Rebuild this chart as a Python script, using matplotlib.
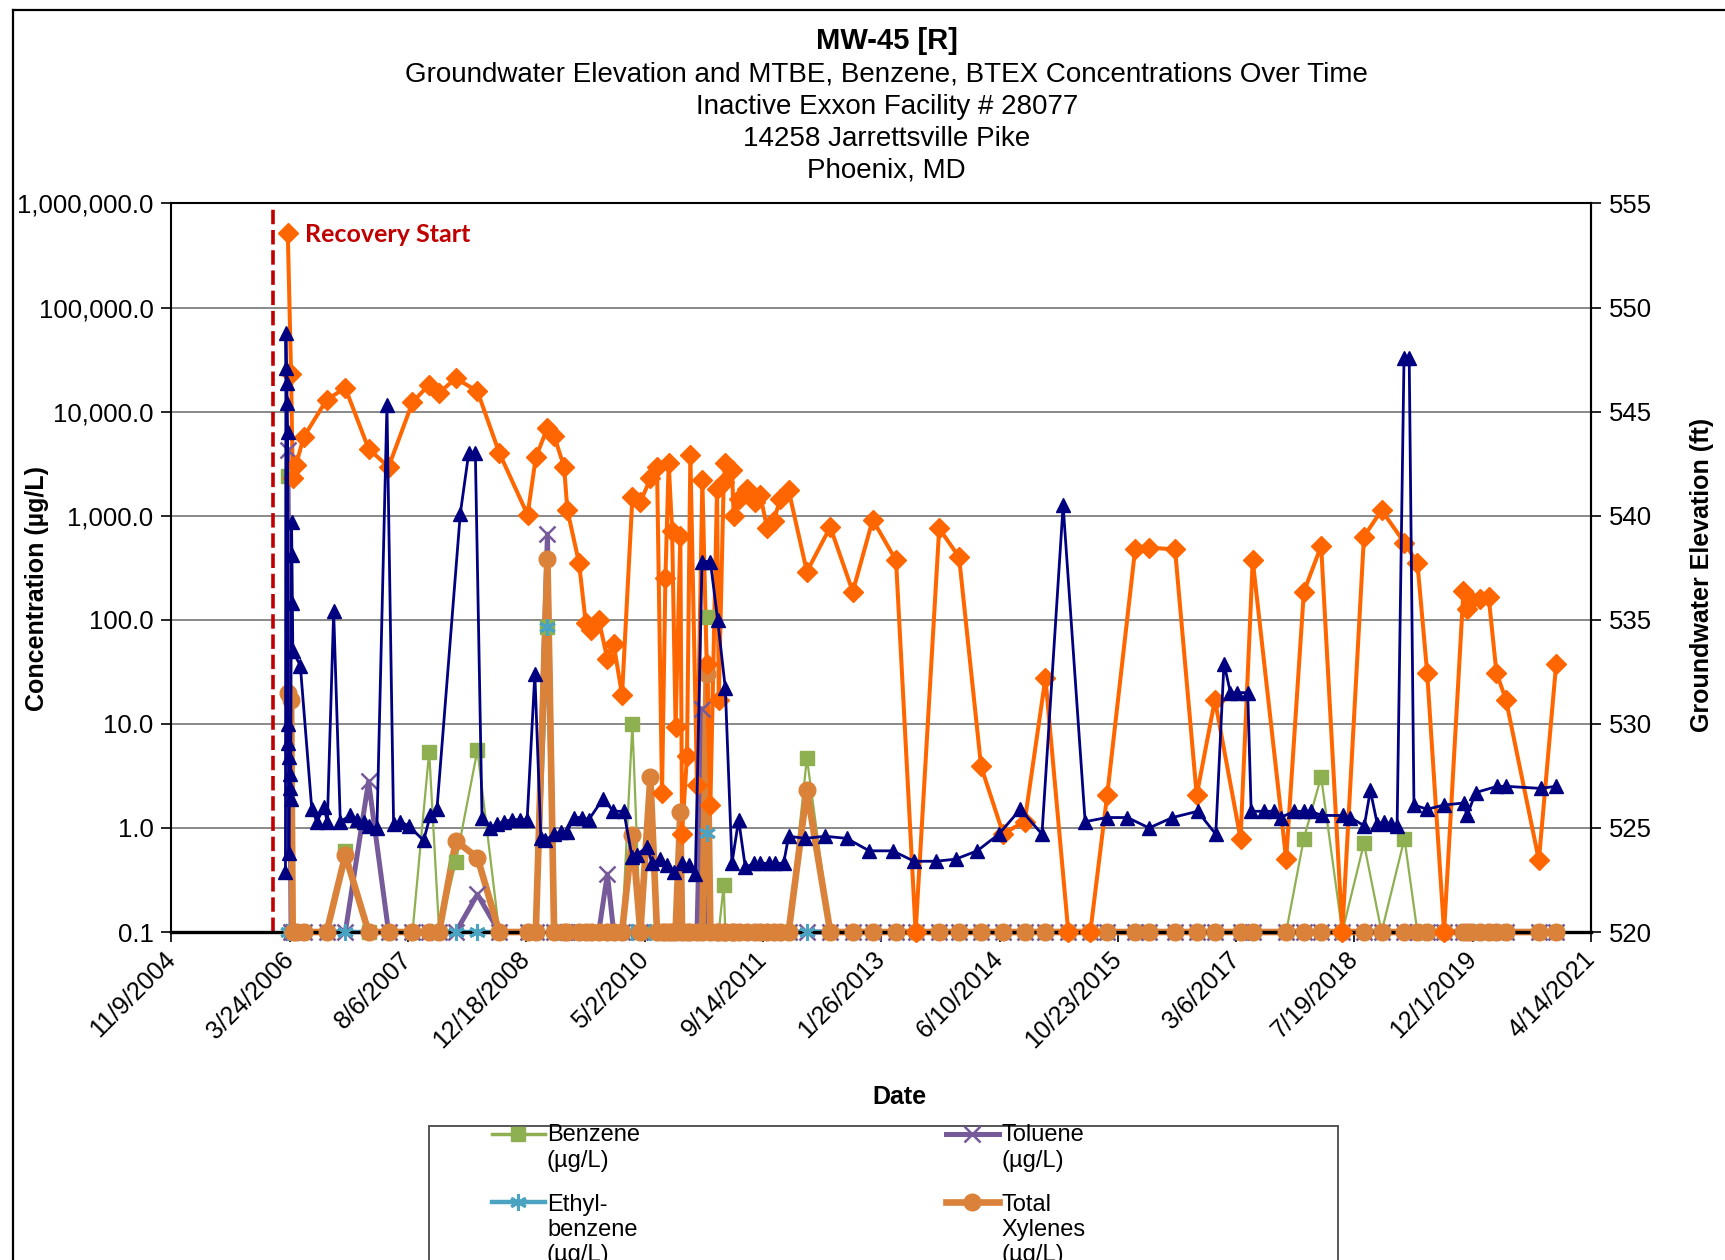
import matplotlib
matplotlib.use("Agg")
import matplotlib.pyplot as plt
from matplotlib.lines import Line2D
from matplotlib.patches import Rectangle
from matplotlib.ticker import FixedLocator, FuncFormatter, NullLocator
from datetime import datetime, timedelta

plt.rcParams['font.family'] = ['Liberation Sans', 'DejaVu Sans']

# sampling dates (decimal years) shared by MTBE and BTEX results
sample_yr = [
    2006.202, 2006.240, 2006.259, 2006.298, 2006.386, 2006.652, 2006.868, 2007.137, 2007.369, 2007.646,
    2007.839, 2007.955, 2008.147, 2008.397, 2008.648, 2008.976, 2009.071, 2009.206, 2009.283, 2009.399,
    2009.437, 2009.572, 2009.650, 2009.707, 2009.800, 2009.900, 2009.973, 2010.070, 2010.190, 2010.282,
    2010.398, 2010.475, 2010.533, 2010.572, 2010.610, 2010.650, 2010.690, 2010.745, 2010.765, 2010.822,
    2010.861, 2010.938, 2011.000, 2011.050, 2011.093, 2011.170, 2011.190, 2011.247, 2011.266, 2011.343,
    2011.363, 2011.420, 2011.517, 2011.613, 2011.670, 2011.749, 2011.826, 2011.903, 2011.999, 2012.210,
    2012.480, 2012.740, 2012.970, 2013.240, 2013.467, 2013.740, 2013.970, 2014.225, 2014.480, 2014.730,
    2014.970, 2015.235, 2015.490, 2015.685, 2016.010, 2016.170, 2016.470, 2016.720, 2016.930, 2017.227,
    2017.368, 2017.755, 2017.960, 2018.160, 2018.405, 2018.656, 2018.860, 2019.125, 2019.275, 2019.388,
    2019.584, 2019.808, 2019.850, 2019.895, 2020.000, 2020.100, 2020.190, 2020.300, 2020.680, 2020.880,
]

mtbe = [
    520000, 23000, 2300, 3100, 5700, 13000, 16900, 4400, 2940, 12300,
    18200, 15200, 20900, 15700, 4040, 1020, 3630, 7000, 5880, 2940,
    1130, 352, 93, 80, 100, 42, 58, 19, 1510, 1350,
    2280, 2960, 2.15, 250, 3190, 714, 9.3, 638, 0.88, 4.9,
    3850, 2.6, 2190, 38, 1.66, 1820, 17, 2110, 3190, 2750,
    1000, 1450, 1820, 1350, 1570, 770, 894, 1450, 1755, 290,
    780, 186, 914, 372, 0.1, 755, 400, 3.9, 0.88, 1.15,
    27.6, 0.1, 0.1, 2.06, 484, 494, 474, 2.06, 17, 0.79,
    372, 0.5, 186, 511, 0.1, 631, 1130, 550, 352, 31,
    0.1, 190, 128, 154, 160, 165, 31, 17, 0.49, 38,
]

# non-detects are plotted at 0.1
benzene = [
    2400, 0.1, 0.1, 0.1, 0.1, 0.1, 0.6, 0.1, 0.1, 0.1,
    5.4, 0.1, 0.47, 5.6, 0.1, 0.1, 0.1, 86, 0.1, 0.1,
    0.1, 0.1, 0.1, 0.1, 0.1, 0.1, 0.1, 0.1, 10, 0.1,
    0.1, 0.1, 0.1, 0.1, 0.1, 0.1, 0.1, 0.1, 0.1, 0.1,
    0.1, 0.1, 0.1, 106, 0.1, 0.1, 0.1, 0.285, 0.1, 0.1,
    0.1, 0.1, 0.1, 0.1, 0.1, 0.1, 0.1, 0.1, 0.1, 4.7,
    0.1, 0.1, 0.1, 0.1, 0.1, 0.1, 0.1, 0.1, 0.1, 0.1,
    0.1, 0.1, 0.1, 0.1, 0.1, 0.1, 0.1, 0.1, 0.1, 0.1,
    0.1, 0.1, 0.79, 3.1, 0.1, 0.71, 0.1, 0.79, 0.1, 0.1,
    0.1, 0.1, 0.1, 0.1, 0.1, 0.1, 0.1, 0.1, 0.1, 0.1,
]

toluene = [
    4300, 0.1, 0.1, 0.1, 0.1, 0.1, 0.1, 2.8, 0.1, 0.1,
    0.1, 0.1, 0.1, 0.23, 0.1, 0.1, 0.1, 665, 0.1, 0.1,
    0.1, 0.1, 0.1, 0.1, 0.1, 0.36, 0.1, 0.1, 0.1, 0.1,
    0.1, 0.1, 0.1, 0.1, 0.1, 0.1, 0.1, 0.1, 0.1, 0.1,
    0.1, 0.1, 14, 0.1, 0.1, 0.1, 0.1, 0.1, 0.1, 0.1,
    0.1, 0.1, 0.1, 0.1, 0.1, 0.1, 0.1, 0.1, 0.1, 0.1,
    0.1, 0.1, 0.1, 0.1, 0.1, 0.1, 0.1, 0.1, 0.1, 0.1,
    0.1, 0.1, 0.1, 0.1, 0.1, 0.1, 0.1, 0.1, 0.1, 0.1,
    0.1, 0.1, 0.1, 0.1, 0.1, 0.1, 0.1, 0.1, 0.1, 0.1,
    0.1, 0.1, 0.1, 0.1, 0.1, 0.1, 0.1, 0.1, 0.1, 0.1,
]

ethylbenzene = [
    0.1, 0.1, 0.1, 0.1, 0.1, 0.1, 0.1, 0.1, 0.1, 0.1,
    0.1, 0.1, 0.1, 0.1, 0.1, 0.1, 0.1, 86, 0.1, 0.1,
    0.1, 0.1, 0.1, 0.1, 0.1, 0.1, 0.1, 0.1, 0.1, 0.1,
    0.1, 0.1, 0.1, 0.1, 0.1, 0.1, 0.1, 0.1, 0.1, 0.1,
    0.1, 0.1, 0.1, 0.9, 0.1, 0.1, 0.1, 0.1, 0.1, 0.1,
    0.1, 0.1, 0.1, 0.1, 0.1, 0.1, 0.1, 0.1, 0.1, 0.1,
    0.1, 0.1, 0.1, 0.1, 0.1, 0.1, 0.1, 0.1, 0.1, 0.1,
    0.1, 0.1, 0.1, 0.1, 0.1, 0.1, 0.1, 0.1, 0.1, 0.1,
    0.1, 0.1, 0.1, 0.1, 0.1, 0.1, 0.1, 0.1, 0.1, 0.1,
    0.1, 0.1, 0.1, 0.1, 0.1, 0.1, 0.1, 0.1, 0.1, 0.1,
]

xylenes = [
    20, 17, 0.1, 0.1, 0.1, 0.1, 0.55, 0.1, 0.1, 0.1,
    0.1, 0.1, 0.75, 0.52, 0.1, 0.1, 0.1, 384, 0.1, 0.1,
    0.1, 0.1, 0.1, 0.1, 0.1, 0.1, 0.1, 0.1, 0.85, 0.1,
    3.1, 0.1, 0.1, 0.1, 0.1, 0.1, 0.1, 1.43, 0.1, 0.1,
    0.1, 0.1, 0.1, 30, 0.1, 0.1, 0.1, 0.1, 0.1, 0.1,
    0.1, 0.1, 0.1, 0.1, 0.1, 0.1, 0.1, 0.1, 0.1, 2.3,
    0.1, 0.1, 0.1, 0.1, 0.1, 0.1, 0.1, 0.1, 0.1, 0.1,
    0.1, 0.1, 0.1, 0.1, 0.1, 0.1, 0.1, 0.1, 0.1, 0.1,
    0.1, 0.1, 0.1, 0.1, 0.1, 0.1, 0.1, 0.1, 0.1, 0.1,
    0.1, 0.1, 0.1, 0.1, 0.1, 0.1, 0.1, 0.1, 0.1, 0.1,
]

# groundwater elevation gauging (decimal years, ft)
gw_yr = [
    2006.175, 2006.180, 2006.185, 2006.190, 2006.195, 2006.200, 2006.205, 2006.210, 2006.215, 2006.220,
    2006.225, 2006.230, 2006.235, 2006.245, 2006.250, 2006.255, 2006.260, 2006.347, 2006.480, 2006.540,
    2006.620, 2006.660, 2006.733, 2006.810, 2006.926, 2007.003, 2007.080, 2007.138, 2007.234, 2007.350,
    2007.427, 2007.505, 2007.601, 2007.775, 2007.852, 2007.929, 2008.199, 2008.296, 2008.373, 2008.450,
    2008.546, 2008.624, 2008.701, 2008.797, 2008.894, 2008.971, 2009.060, 2009.130, 2009.180, 2009.280,
    2009.360, 2009.434, 2009.511, 2009.608, 2009.685, 2009.850, 2009.970, 2010.090, 2010.186, 2010.240,
    2010.360, 2010.417, 2010.514, 2010.590, 2010.668, 2010.765, 2010.842, 2010.919, 2010.996, 2011.093,
    2011.177, 2011.266, 2011.343, 2011.420, 2011.498, 2011.594, 2011.671, 2011.768, 2011.845, 2011.941,
    2011.999, 2012.190, 2012.420, 2012.670, 2012.930, 2013.200, 2013.450, 2013.700, 2013.930, 2014.180,
    2014.430, 2014.680, 2014.930, 2015.175, 2015.430, 2015.680, 2015.920, 2016.170, 2016.440, 2016.730,
    2016.940, 2017.035, 2017.110, 2017.190, 2017.310, 2017.350, 2017.500, 2017.610, 2017.690, 2017.850,
    2017.960, 2018.040, 2018.170, 2018.410, 2018.500, 2018.660, 2018.730, 2018.810, 2018.890, 2018.970,
    2019.040, 2019.120, 2019.180, 2019.235, 2019.390, 2019.580, 2019.810, 2019.850, 2019.950, 2020.200,
    2020.300, 2020.700, 2020.875,
]
gw_elev = [
    522.9, 548.8, 547.1, 546.4, 545.4, 544.0, 530.0, 529.1, 523.8, 528.4,
    527.6, 526.9, 526.4, 539.7, 538.1, 535.8, 533.5, 532.8, 525.9, 525.3,
    526.0, 525.3, 535.4, 525.3, 525.6, 525.4, 525.3, 525.1, 525.0, 545.3,
    525.2, 525.3, 525.1, 524.4, 525.6, 525.9, 540.1, 543.0, 543.0, 525.5,
    525.0, 525.2, 525.3, 525.4, 525.4, 525.4, 532.4, 524.5, 524.4, 524.7,
    524.8, 524.8, 525.5, 525.5, 525.4, 526.4, 525.8, 525.8, 523.6, 523.7,
    524.1, 523.3, 523.5, 523.2, 522.9, 523.3, 523.2, 522.8, 537.8, 537.8,
    535.0, 531.7, 523.3, 525.4, 523.1, 523.3, 523.3, 523.3, 523.3, 523.3,
    524.6, 524.5, 524.6, 524.5, 523.9, 523.9, 523.4, 523.4, 523.5, 523.9,
    524.7, 525.9, 524.7, 540.5, 525.3, 525.5, 525.5, 525.0, 525.5, 525.8,
    524.7, 532.9, 531.5, 531.5, 531.5, 525.8, 525.8, 525.8, 525.5, 525.8,
    525.8, 525.8, 525.6, 525.6, 525.5, 525.1, 526.8, 525.2, 525.3, 525.2,
    525.1, 547.6, 547.6, 526.1, 525.9, 526.1, 526.2, 525.6, 526.7, 527.0,
    527.0, 526.9, 527.0,
]

recovery_start = 2006.029
tick_dates = ["2004-11-09", "2006-03-24", "2007-08-06", "2008-12-18", "2010-05-02",
              "2011-09-14", "2013-01-26", "2014-06-10", "2015-10-23", "2017-03-06",
              "2018-07-19", "2019-12-01", "2021-04-14"]
tick_labels = ["11/9/2004", "3/24/2006", "8/6/2007", "12/18/2008", "5/2/2010",
               "9/14/2011", "1/26/2013", "6/10/2014", "10/23/2015", "3/6/2017",
               "7/19/2018", "12/1/2019", "4/14/2021"]


def to_date(y):
    yr = int(y)
    start = datetime(yr, 1, 1)
    ndays = (datetime(yr + 1, 1, 1) - start).days
    return start + timedelta(days=(y - yr) * ndays)


dates = [to_date(v) for v in sample_yr]
gw_dates = [to_date(v) for v in gw_yr]

fig = plt.figure(figsize=(17.25, 12.6), dpi=100)
ax = fig.add_axes([0.0994, 0.2603, 0.8229, 0.5782])

# name, values, colour, line width, marker, marker size, filled, marker edge width
styles = [
    ("Benzene\n(µg/L)", benzene, "#8EB050", 1.6, "s", 10, True, 1),
    ("Toluene\n(µg/L)", toluene, "#765A99", 3.6, "x", 12, False, 1.8),
    ("Ethyl-\nbenzene\n(µg/L)", ethylbenzene, "#4AA3C0", 3.2, (6, 2, 0), 12, False, 2.2),
    ("Total\nXylenes\n(µg/L)", xylenes, "#DB823A", 4.8, "o", 12, True, 1),
    ("MTBE\n(µg/L)", mtbe, "#FF6600", 2.9, "D", 10, True, 1),
]

# Excel style: every line first, then every marker on top
for i, (name, vals, c, lw, m, ms, filled, mew) in enumerate(styles):
    ax.plot(dates, vals, color=c, lw=lw, zorder=2 + i * 0.1, clip_on=False,
            solid_joinstyle='round')
for i, (name, vals, c, lw, m, ms, filled, mew) in enumerate(styles):
    ax.plot(dates, vals, ls="none", marker=m, ms=ms, color=c,
            mfc=c if filled else "none", mec=c, mew=mew,
            zorder=3 + i * 0.1, clip_on=False)

ax.axvline(to_date(recovery_start), color="#C00000", lw=2.6, ls=(0, (4, 1.6)), zorder=1.5)

ax.set_yscale("log")
ax.set_ylim(0.1, 1e6)
ax.set_xlim(datetime(2004, 11, 9), datetime(2021, 4, 14))
ax.yaxis.set_major_locator(FixedLocator([0.1, 1, 10, 100, 1e3, 1e4, 1e5, 1e6]))
ax.yaxis.set_minor_locator(NullLocator())
ax.yaxis.set_major_formatter(FuncFormatter(lambda v, p: f"{v:,.1f}"))
ax.yaxis.grid(True, color="#808080", lw=1.3)
ax.set_axisbelow(True)

ax.set_xticks([datetime.strptime(d, "%Y-%m-%d") for d in tick_dates])
ax.set_xticklabels(tick_labels, rotation=45, ha="right", va="center",
                   rotation_mode="anchor", fontsize=18)
ax.tick_params(axis="x", direction="out", length=7, width=1.2, pad=10)
ax.tick_params(axis="y", direction="out", length=7, width=1.2, labelsize=18.5, pad=6)
for s in ax.spines.values():
    s.set_color("black")
    s.set_linewidth(1.5)
ax.spines["bottom"].set_linewidth(2.4)

ax2 = ax.twinx()
ax2.plot(gw_dates, gw_elev, color="#000080", lw=2.0, marker="^", ms=10,
         clip_on=False, zorder=4)
ax2.set_ylim(520, 555)
ax2.yaxis.set_major_locator(FixedLocator(list(range(520, 556, 5))))
ax2.tick_params(axis="y", direction="out", length=7, width=1.2, labelsize=18.5, pad=6)
ax2.spines["right"].set_linewidth(1.5)
for k in ("top", "bottom", "left"):
    ax2.spines[k].set_visible(False)

# titles and axis labels
fig.text(0.514, 0.9671, "MW-45 [R]", ha="center", va="center", fontsize=21, fontweight="bold")
subtitle = ["Groundwater Elevation and MTBE, Benzene, BTEX Concentrations Over Time",
            "Inactive Exxon Facility # 28077", "14258 Jarrettsville Pike", "Phoenix, MD"]
for line, y in zip(subtitle, [0.9407, 0.9154, 0.8900, 0.8647]):
    fig.text(0.514, y, line, ha="center", va="center", fontsize=20)
fig.text(0.0217, 0.5329, "Concentration (µg/L)", rotation=90, ha="center", va="center",
         fontsize=18, fontweight="bold")
fig.text(0.9866, 0.5434, "Groundwater Elevation (ft)", rotation=90, ha="center", va="center",
         fontsize=18, fontweight="bold")
fig.text(0.5217, 0.1294, "Date", ha="center", va="center", fontsize=18, fontweight="bold")
fig.text(0.1766, 0.8140, "Recovery Start", color="#C00000", fontsize=18, fontweight="bold",
         family=["Lato", "DejaVu Sans"], va="center")

# outer chart border (runs off the page at right and bottom)
fig.add_artist(Line2D([13 / 1725, 13 / 1725], [-0.1, 1 - 9.5 / 1260], color="black", lw=1.6,
                      transform=fig.transFigure))
fig.add_artist(Line2D([13 / 1725, 1.1], [1 - 9.5 / 1260, 1 - 9.5 / 1260], color="black", lw=1.6,
                      transform=fig.transFigure))

# legend box, cut off by the page bottom (only the first two rows fit on the page)
fig.add_artist(Rectangle((0.2487, -0.2), 0.7757 - 0.2487, 0.306, fill=False,
                         edgecolor="#555555", lw=1.4, transform=fig.transFigure))
legend_items = [
    (styles[0], 0, 0.1000, 0.0889),
    (styles[1], 1, 0.1000, 0.0889),
    (styles[2], 0, 0.0460, 0.0238),
    (styles[3], 1, 0.0460, 0.0238),
]
col_x = [(0.2852, 0.3159, 0.3171), (0.5484, 0.5791, 0.5803)]
for (name, vals, c, lw, m, ms, filled, mew), col, yh, yt in legend_items:
    x0, x1, xt = col_x[col]
    fig.add_artist(Line2D([x0, x1], [yh, yh], color=c, lw=max(lw, 2.5), transform=fig.transFigure))
    fig.add_artist(Line2D([(x0 + x1) / 2], [yh], ls="none", marker=m, ms=ms, color=c,
                          mfc=c if filled else "none", mec=c, mew=mew,
                          transform=fig.transFigure))
    fig.text(xt, yt, name, ha="left", va="center", fontsize=17, linespacing=1.2)

fig.savefig("out.png", dpi=100)
